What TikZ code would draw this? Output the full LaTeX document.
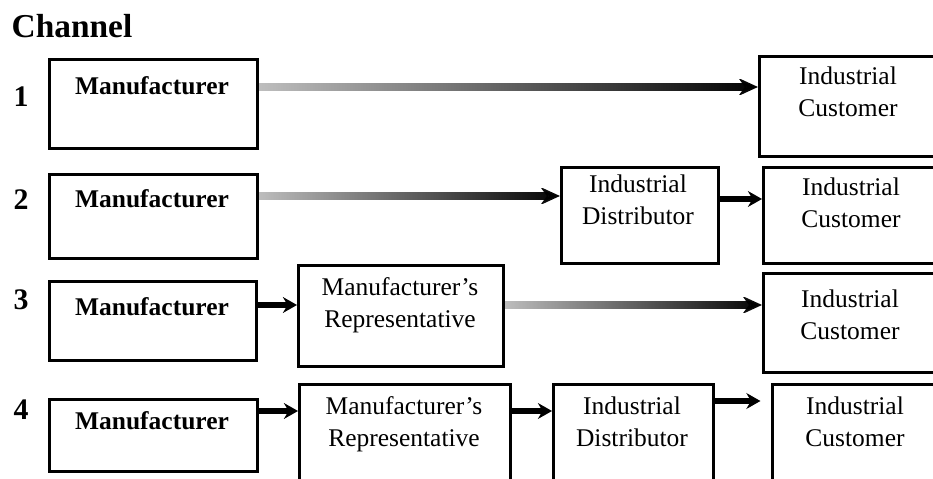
\documentclass[tikz,border=0pt]{standalone}
\usepackage{fontspec}
\setmainfont{Liberation Serif}
\usetikzlibrary{arrows.meta,fadings,positioning}

\tikzfading[name=fade in, left color=transparent!75, right color=transparent!0]

\tikzset{
  box/.style={draw, line width=1.7pt, anchor=north west, inner sep=0pt},
  word/.style={font=\fontsize{14.5}{18.5}\selectfont, align=center, anchor=north, inner sep=0pt},
  maker/.style={word, font=\bfseries\fontsize{14.5}{18.5}\selectfont},
  num/.style={font=\bfseries\fontsize{17}{20}\selectfont, inner sep=0pt},
  title/.style={font=\bfseries\fontsize{19}{22}\selectfont, inner sep=0pt},
  flow/.style={-{Stealth[length=11pt,width=10pt]}, line width=4pt, path fading=fade in},
  hop/.style={-{Stealth[length=8pt,width=9pt]}, line width=3pt}
}

\begin{document}
\begin{tikzpicture}[x=0.02cm, y=-0.02cm]
    \useasboundingbox (0,0) rectangle (933,479);
    \clip (0,0) rectangle (933,479);

    % the heading and the channel numbers
    \node[title] (chan) at (72,26) {Channel};
    \node[num] (n1) at (21,97) {1};
    \node[num] (n2) at (21,200) {2};
    \node[num] (n3) at (21,300) {3};
    \node[num] (n4) at (21,410) {4};

    % the rows (the coordinates rowX give the height of the arrows)
    \coordinate (row1) at (0,87);
    \coordinate (row2) at (0,196);
    \coordinate (row2b) at (0,199);
    \coordinate (row3) at (0,305);
    \coordinate (row4) at (0,411);
    \coordinate (row4b) at (0,401);

    % channel 1
    \node[box, minimum width=4.16cm, minimum height=1.78cm] (m1) at (48,58) {};
    \node[maker] (m1t) at (152,76) {Manufacturer};
    \node[box, minimum width=4cm, minimum height=2cm] (c1) at (758,55) {};
    \node[word] (c1t) at (848,66) {Industrial\\Customer};

    % channel 2
    \node[box, minimum width=4.16cm, minimum height=1.68cm] (m2) at (48,173) {};
    \node[maker] (m2t) at (152,189) {Manufacturer};
    \node[box, minimum width=3.14cm, minimum height=1.92cm] (d2) at (560,166) {};
    \node[word] (d2t) at (638,174) {Industrial\\Distributor};
    \node[box, minimum width=4cm, minimum height=1.92cm] (c2) at (762,166) {};
    \node[word] (c2t) at (851,177) {Industrial\\Customer};

    % channel 3
    \node[box, minimum width=4.14cm, minimum height=1.58cm] (m3) at (48,280) {};
    \node[maker] (m3t) at (152,297) {Manufacturer};
    \node[box, minimum width=4.1cm, minimum height=2.02cm] (r3) at (297,264) {};
    \node[word] (r3t) at (400,277) {Manufacturer's\\Representative};
    \node[box, minimum width=4cm, minimum height=1.98cm] (c3) at (762,272) {};
    \node[word] (c3t) at (850,289) {Industrial\\Customer};

    % channel 4
    \node[box, minimum width=4.16cm, minimum height=1.44cm] (m4) at (48,398) {};
    \node[maker] (m4t) at (152,411) {Manufacturer};
    \node[box, minimum width=4.22cm, minimum height=2.4cm] (r4) at (298,383) {};
    \node[word] (r4t) at (404,396) {Manufacturer's\\Representative};
    \node[box, minimum width=3.2cm, minimum height=2.4cm] (d4) at (552,383) {};
    \node[word] (d4t) at (632,396) {Industrial\\Distributor};
    \node[box, minimum width=4cm, minimum height=2.4cm] (c4) at (771,383) {};
    \node[word] (c4t) at (855,396) {Industrial\\Customer};

    % draw the arrows
    \draw[flow] (m1.east |- row1) -- (c1.west |- row1);
    \draw[flow] (m2.east |- row2) -- (d2.west |- row2);
    \draw[hop] (d2.east |- row2b) -- (c2.west |- row2b);
    \draw[hop] (m3.east |- row3) -- (r3.west |- row3);
    \draw[flow] (r3.east |- row3) -- (c3.west |- row3);
    \draw[hop] (m4.east |- row4) -- (r4.west |- row4);
    \draw[hop] (r4.east |- row4) -- (d4.west |- row4);
    \draw[hop] (d4.east |- row4b) -- ([xshift=-6pt]c4.west |- row4b);

\end{tikzpicture}
\end{document}
